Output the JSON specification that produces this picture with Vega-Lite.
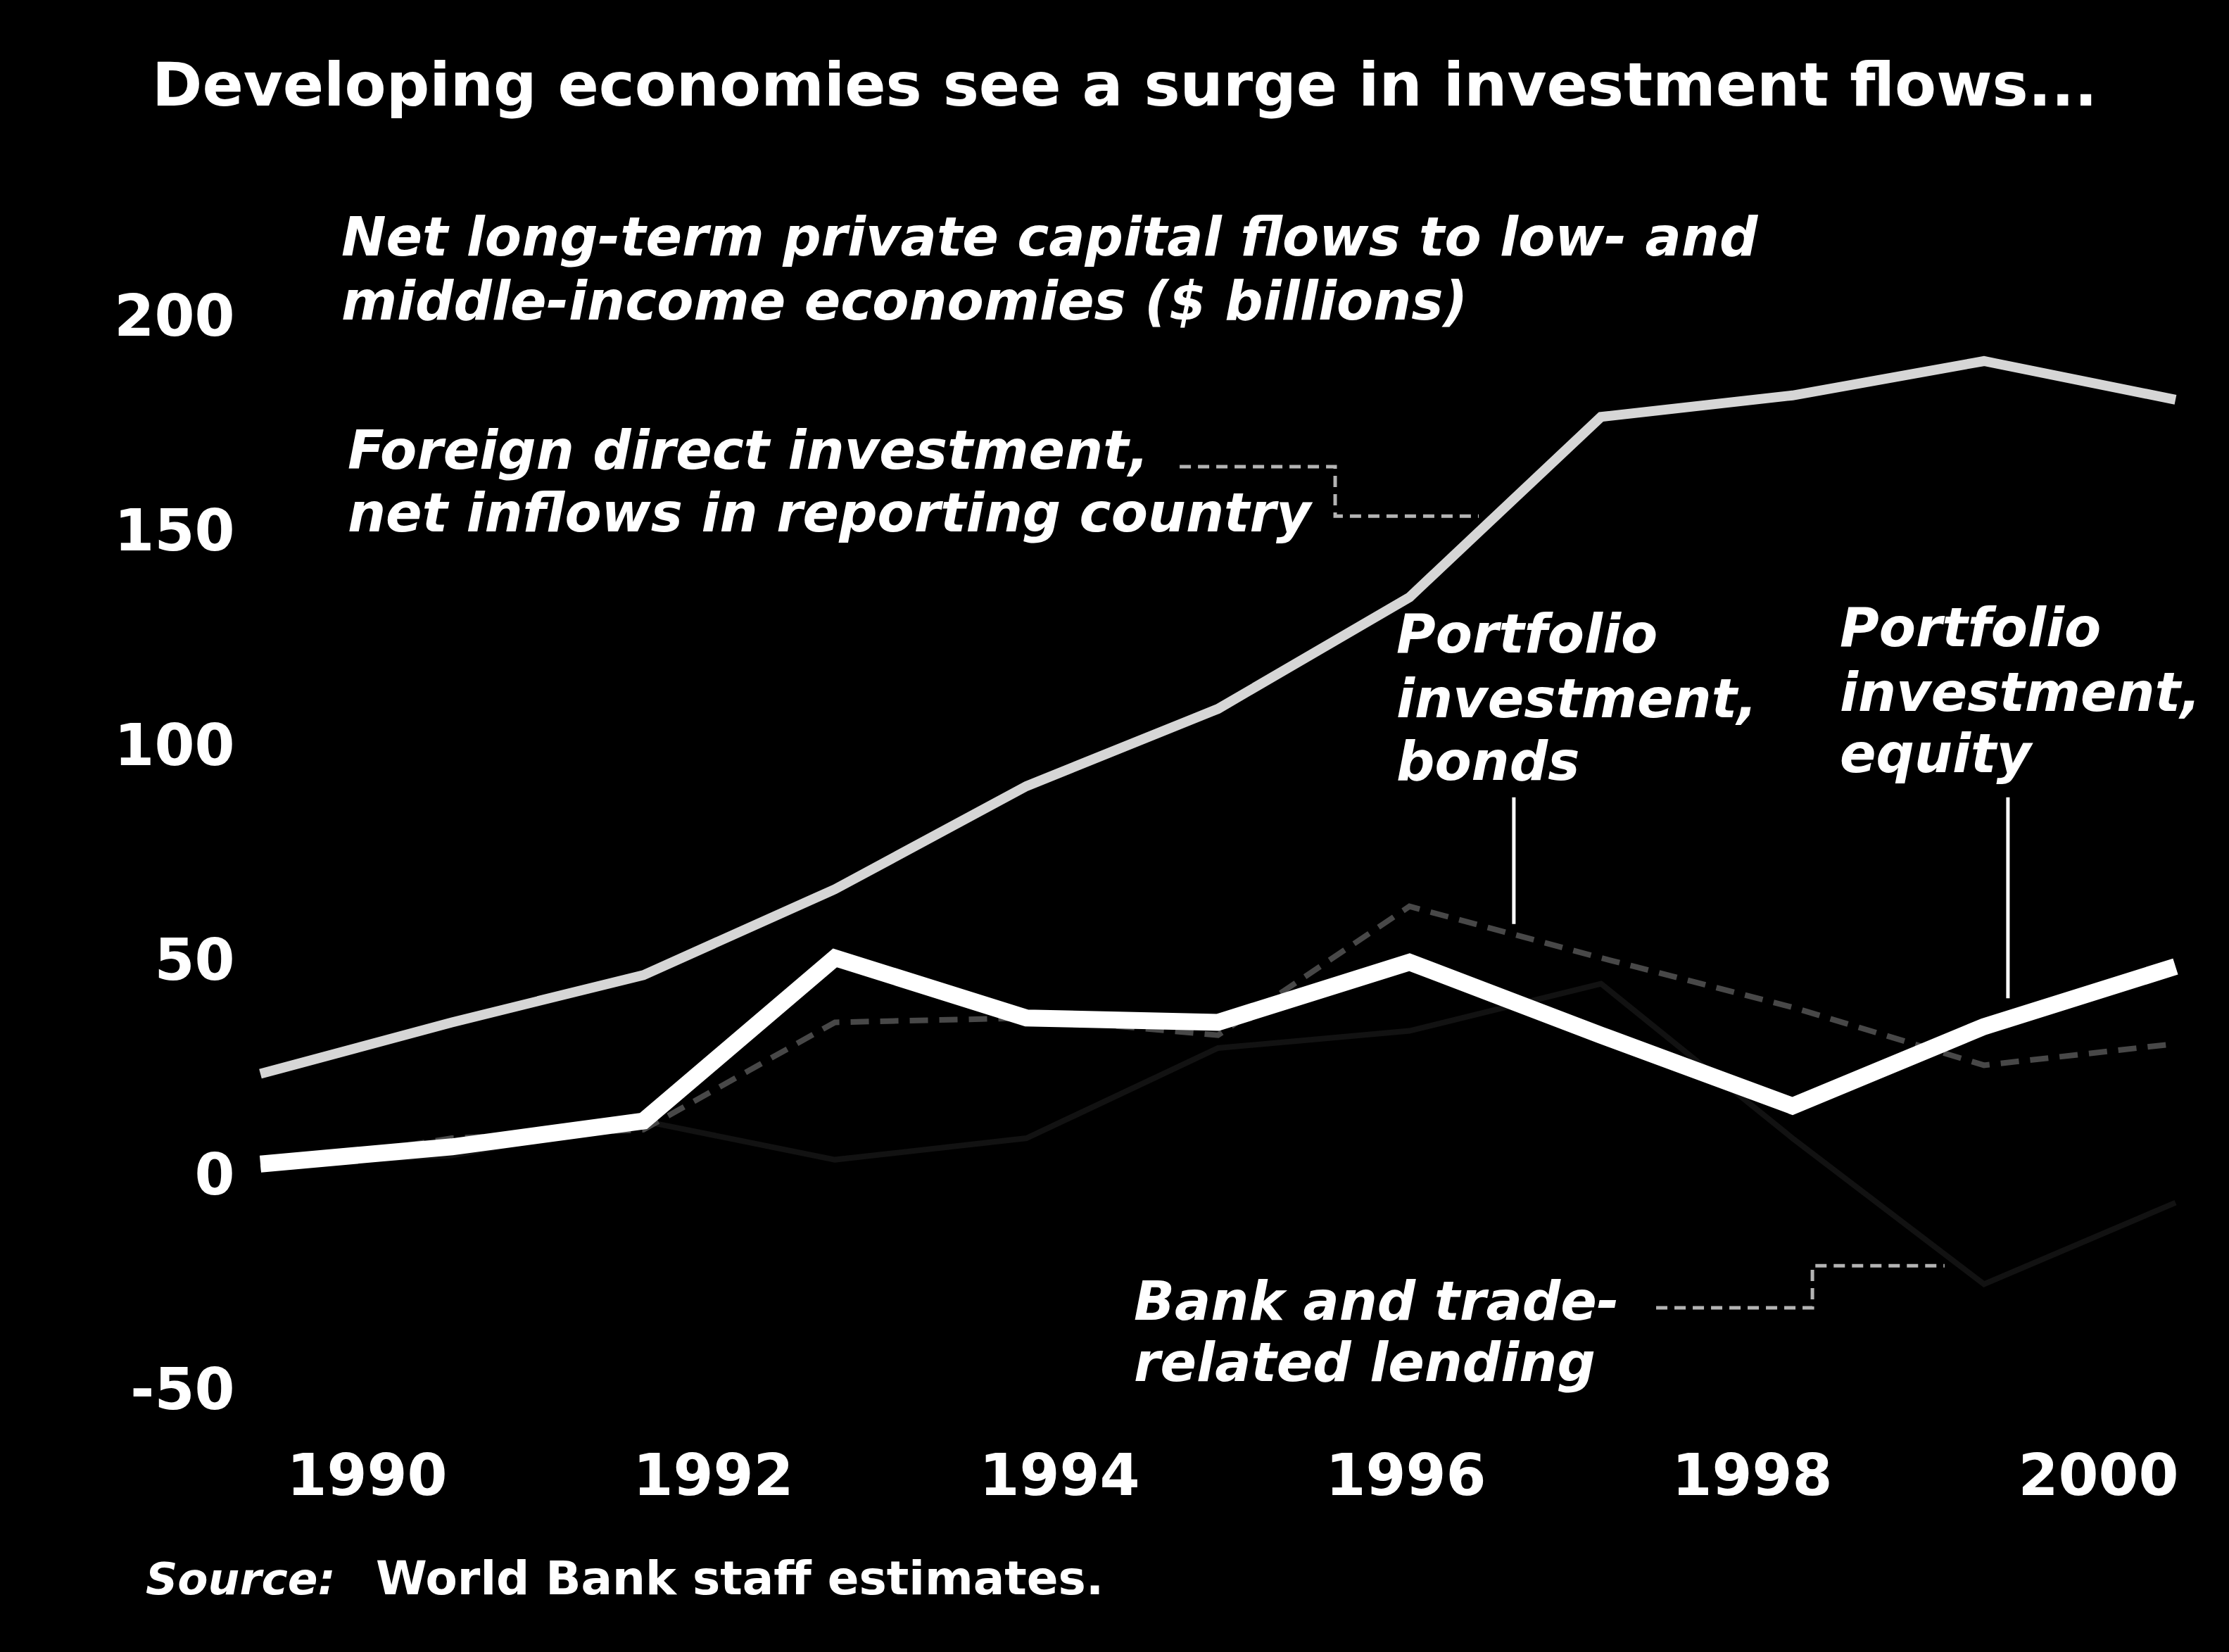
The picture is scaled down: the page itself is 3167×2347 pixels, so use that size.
{
  "$schema": "https://vega.github.io/schema/vega-lite/v6.json",
  "width": 2721,
  "height": 1678,
  "autosize": {"type": "none"},
  "padding": {"left": 370, "top": 360, "right": 76, "bottom": 309},
  "background": "black",
  "config": {"view": {"stroke": null}},
  "datasets": {
    "series": [
      {"series": "FDI", "year": 1990, "value": 24},
      {"series": "FDI", "year": 1991, "value": 36},
      {"series": "FDI", "year": 1992, "value": 47},
      {"series": "FDI", "year": 1993, "value": 67},
      {"series": "FDI", "year": 1994, "value": 91},
      {"series": "FDI", "year": 1995, "value": 109},
      {"series": "FDI", "year": 1996, "value": 135},
      {"series": "FDI", "year": 1997, "value": 177},
      {"series": "FDI", "year": 1998, "value": 182},
      {"series": "FDI", "year": 1999, "value": 190},
      {"series": "FDI", "year": 2000, "value": 181},
      {"series": "Equity", "year": 1990, "value": 3},
      {"series": "Equity", "year": 1991, "value": 7},
      {"series": "Equity", "year": 1992, "value": 13},
      {"series": "Equity", "year": 1993, "value": 51},
      {"series": "Equity", "year": 1994, "value": 37},
      {"series": "Equity", "year": 1995, "value": 36},
      {"series": "Equity", "year": 1996, "value": 50},
      {"series": "Equity", "year": 1997, "value": 33},
      {"series": "Equity", "year": 1998, "value": 16.5},
      {"series": "Equity", "year": 1999, "value": 35},
      {"series": "Equity", "year": 2000, "value": 49},
      {"series": "Bonds", "year": 1990, "value": 2},
      {"series": "Bonds", "year": 1991, "value": 9},
      {"series": "Bonds", "year": 1992, "value": 11},
      {"series": "Bonds", "year": 1993, "value": 36},
      {"series": "Bonds", "year": 1994, "value": 37},
      {"series": "Bonds", "year": 1995, "value": 33},
      {"series": "Bonds", "year": 1996, "value": 63},
      {"series": "Bonds", "year": 1997, "value": 51},
      {"series": "Bonds", "year": 1998, "value": 39.5},
      {"series": "Bonds", "year": 1999, "value": 26},
      {"series": "Bonds", "year": 2000, "value": 31},
      {"series": "Bank", "year": 1990, "value": 3},
      {"series": "Bank", "year": 1991, "value": 5},
      {"series": "Bank", "year": 1992, "value": 13},
      {"series": "Bank", "year": 1993, "value": 4},
      {"series": "Bank", "year": 1994, "value": 9},
      {"series": "Bank", "year": 1995, "value": 30},
      {"series": "Bank", "year": 1996, "value": 34},
      {"series": "Bank", "year": 1997, "value": 45},
      {"series": "Bank", "year": 1998, "value": 9},
      {"series": "Bank", "year": 1999, "value": -25},
      {"series": "Bank", "year": 2000, "value": -6}
    ],
    "leaders": [
      {"leader": "fdi", "style": "dotted", "i": 0, "year": 1994.8, "value": 165.4},
      {"leader": "fdi", "style": "dotted", "i": 1, "year": 1995.612, "value": 165.4},
      {"leader": "fdi", "style": "dotted", "i": 2, "year": 1995.612, "value": 153.9},
      {"leader": "fdi", "style": "dotted", "i": 3, "year": 1996.362, "value": 153.9},
      {"leader": "bank", "style": "dotted", "i": 0, "year": 1997.288, "value": -30.5},
      {"leader": "bank", "style": "dotted", "i": 1, "year": 1998.104, "value": -30.5},
      {"leader": "bank", "style": "dotted", "i": 2, "year": 1998.104, "value": -20.7},
      {"leader": "bank", "style": "dotted", "i": 3, "year": 1998.794, "value": -20.7},
      {"leader": "bonds", "style": "solid", "i": 0, "year": 1996.545, "value": 88.4},
      {"leader": "bonds", "style": "solid", "i": 1, "year": 1996.545, "value": 58.9},
      {"leader": "equity", "style": "solid", "i": 0, "year": 1999.125, "value": 88.4},
      {"leader": "equity", "style": "solid", "i": 1, "year": 1999.125, "value": 41.6}
    ],
    "notes": [
      {"group": "title", "text": "Developing economies see a surge in investment flows...", "ax": 1988.76, "v": 249.5},
      {"group": "label", "text": "Net long-term private capital flows to low- and", "ax": 1989.853, "v": 214.6},
      {"group": "label", "text": "middle-income economies ($ billions)", "ax": 1989.853, "v": 199.7},
      {"group": "label", "text": "Foreign direct investment,", "ax": 1989.89, "v": 164.9},
      {"group": "label", "text": "net inflows in reporting country", "ax": 1989.89, "v": 150.3},
      {"group": "label", "text": "Portfolio", "ax": 1995.947, "v": 122.1},
      {"group": "label", "text": "investment,", "ax": 1995.947, "v": 107.0},
      {"group": "label", "text": "bonds", "ax": 1995.947, "v": 92.5},
      {"group": "label", "text": "Portfolio", "ax": 1998.508, "v": 123.6},
      {"group": "label", "text": "investment,", "ax": 1998.508, "v": 108.5},
      {"group": "label", "text": "equity", "ax": 1998.508, "v": 94.3},
      {"group": "label", "text": "Bank and trade-", "ax": 1994.431, "v": -33.3},
      {"group": "label", "text": "related lending", "ax": 1994.431, "v": -47.5},
      {"group": "source1", "text": "Source:", "ax": 1988.723, "v": -97.2},
      {"group": "source2", "text": "World Bank staff estimates.", "ax": 1990.053, "v": -97.2}
    ]
  },
  "resolve": {"scale": {"x": "independent"}, "axis": {"x": "independent"}},
  "layer": [
    {
      "layer": [
        {
          "data": {"name": "series"},
          "transform": [{"filter": "datum.series === 'Bank'"}],
          "mark": {"type": "line", "color": "#121212", "strokeWidth": 8},
          "encoding": {
            "x": {"field": "year", "type": "quantitative", "scale": {"domain": [1990, 2000], "nice": false, "zero": false}, "axis": null},
            "y": {"field": "value", "type": "quantitative", "scale": {"domain": [-60, 215.08], "nice": false, "zero": false},
              "axis": {"values": [-50, 0, 50, 100, 150, 200], "title": null, "domain": false, "ticks": false, "grid": false, "labelExpr": "'' + datum.value", "labelLimit": 0,
                "labelFont": "DejaVu Sans", "labelFontWeight": "bold", "labelFontSize": 82, "labelColor": "white", "labelPadding": 37}}
          }
        },
        {
          "data": {"name": "series"},
          "transform": [{"filter": "datum.series === 'Bonds'"}],
          "mark": {"type": "line", "color": "#484848", "strokeWidth": 8, "strokeDash": [26, 16]},
          "encoding": {
            "x": {"field": "year", "type": "quantitative", "scale": {"domain": [1990, 2000], "nice": false, "zero": false}, "axis": null},
            "y": {"field": "value", "type": "quantitative", "scale": {"domain": [-60, 215.08], "nice": false, "zero": false}}
          }
        },
        {
          "data": {"name": "series"},
          "transform": [{"filter": "datum.series === 'FDI'"}],
          "mark": {"type": "line", "color": "#d6d6d6", "strokeWidth": 14},
          "encoding": {
            "x": {"field": "year", "type": "quantitative", "scale": {"domain": [1990, 2000], "nice": false, "zero": false}, "axis": null},
            "y": {"field": "value", "type": "quantitative", "scale": {"domain": [-60, 215.08], "nice": false, "zero": false}}
          }
        },
        {
          "data": {"name": "series"},
          "transform": [{"filter": "datum.series === 'Equity'"}],
          "mark": {"type": "line", "color": "#ffffff", "strokeWidth": 24, "strokeJoin": "miter"},
          "encoding": {
            "x": {"field": "year", "type": "quantitative", "scale": {"domain": [1990, 2000], "nice": false, "zero": false}, "axis": null},
            "y": {"field": "value", "type": "quantitative", "scale": {"domain": [-60, 215.08], "nice": false, "zero": false}}
          }
        },
        {
          "data": {"name": "leaders"},
          "transform": [{"filter": "datum.style === 'dotted'"}],
          "mark": {"type": "line", "color": "#b4b4b4", "strokeWidth": 5, "strokeDash": [16, 10]},
          "encoding": {
            "x": {"field": "year", "type": "quantitative", "scale": {"domain": [1990, 2000], "nice": false, "zero": false}, "axis": null},
            "y": {"field": "value", "type": "quantitative", "scale": {"domain": [-60, 215.08], "nice": false, "zero": false}},
            "detail": {"field": "leader"},
            "order": {"field": "i", "type": "quantitative"}
          }
        },
        {
          "data": {"name": "leaders"},
          "transform": [{"filter": "datum.style === 'solid'"}],
          "mark": {"type": "line", "color": "#ffffff", "strokeWidth": 5},
          "encoding": {
            "x": {"field": "year", "type": "quantitative", "scale": {"domain": [1990, 2000], "nice": false, "zero": false}, "axis": null},
            "y": {"field": "value", "type": "quantitative", "scale": {"domain": [-60, 215.08], "nice": false, "zero": false}},
            "detail": {"field": "leader"},
            "order": {"field": "i", "type": "quantitative"}
          }
        }
      ]
    },
    {
      "data": {"name": "notes"},
      "encoding": {
        "x": {"field": "ax", "type": "quantitative", "scale": {"domain": [1989.386, 2000.447], "nice": false, "zero": false},
          "axis": {"orient": "bottom", "values": [1990, 1992, 1994, 1996, 1998, 2000], "format": "d", "title": null, "domain": false, "ticks": false, "grid": false,
            "labelFont": "DejaVu Sans", "labelFontWeight": "bold", "labelFontSize": 82, "labelColor": "white", "labelPadding": 20, "labelFlush": false, "labelOverlap": false, "labelLimit": 0}},
        "y": {"field": "v", "type": "quantitative", "scale": {"domain": [-60, 215.08], "nice": false, "zero": false}},
        "text": {"field": "text"}
      },
      "layer": [
        {
          "transform": [{"filter": "datum.group === 'title'"}],
          "mark": {"type": "text", "align": "left", "baseline": "alphabetic", "font": "DejaVu Sans", "fontWeight": "bold", "fontSize": 86, "color": "white"}
        },
        {
          "transform": [{"filter": "datum.group === 'label'"}],
          "mark": {"type": "text", "align": "left", "baseline": "alphabetic", "font": "DejaVu Sans", "fontWeight": "bold", "fontStyle": "italic", "fontSize": 76, "color": "white"}
        },
        {
          "transform": [{"filter": "datum.group === 'source1'"}],
          "mark": {"type": "text", "align": "left", "baseline": "alphabetic", "font": "DejaVu Sans", "fontWeight": "bold", "fontStyle": "italic", "fontSize": 63, "color": "white"}
        },
        {
          "transform": [{"filter": "datum.group === 'source2'"}],
          "mark": {"type": "text", "align": "left", "baseline": "alphabetic", "font": "DejaVu Sans", "fontWeight": "bold", "fontSize": 66, "color": "white"}
        }
      ]
    }
  ]
}
